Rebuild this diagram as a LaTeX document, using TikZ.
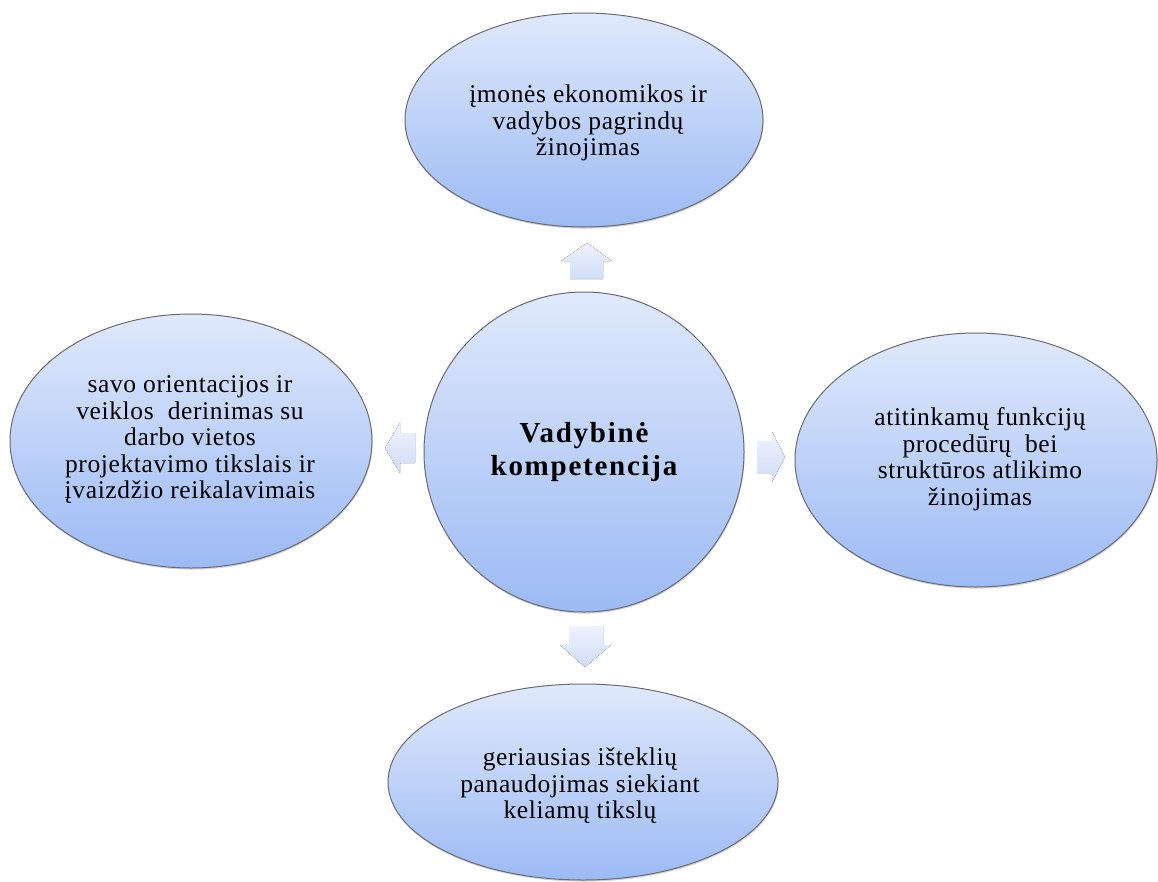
\documentclass[tikz,border=0pt]{standalone}
\usepackage{fontspec}
\setmainfont{Liberation Serif}
\usepackage{xcolor}
\usetikzlibrary{shapes.geometric, positioning, calc, shadows}

\definecolor{bubbleTop}{HTML}{E0E9FC}
\definecolor{bubbleBot}{HTML}{9CBAF4}
\definecolor{arrowTop}{HTML}{EEF3FD}
\definecolor{arrowBot}{HTML}{D0DCF8}
\definecolor{rimGray}{HTML}{6A6A72}

\begin{document}
\begin{tikzpicture}[x=1pt, y=-1pt,
  bubble/.style={ellipse, draw=rimGray, line width=1pt, top color=bubbleTop, bottom color=bubbleBot,
    inner sep=0pt, drop shadow={shadow xshift=0.6pt, shadow yshift=-1.6pt, opacity=0.35}},
  bubbletext/.style={align=center, font=\fontsize{25.5}{26.5}\selectfont\addfontfeatures{LetterSpace=2.5}},
  blockarrow/.style={top color=arrowTop, bottom color=arrowBot}]
  \useasboundingbox (0,0) rectangle (1158,881);

  % centre and the four ellipses
  \node[bubble, circle, minimum size=320pt] (hub) at (584,452) {};
  \node[bubble, minimum width=358pt, minimum height=214pt] (upper) at (584,120) {};
  \node[bubble, minimum width=362pt, minimum height=254pt] (leftE) at (191,441) {};
  \node[bubble, minimum width=362pt, minimum height=254pt] (rightE) at (976,460) {};
  \node[bubble, minimum width=390pt, minimum height=196pt] (lower) at (583,782) {};

  \node[align=center, font=\bfseries\fontsize{29}{33}\selectfont\addfontfeatures{LetterSpace=6}] (hubText) at (hub) {Vadybinė\\kompetencija};
  \node[bubbletext] (upperText) at (588,123) {įmonės ekonomikos ir\\vadybos pagrindų\\žinojimas};
  \node[bubbletext] (leftText) at (190,440) {savo orientacijos ir\\veiklos \ derinimas su\\darbo vietos\\projektavimo tikslais ir\\įvaizdžio reikalavimais};
  \node[bubbletext] (rightText) at (980,459) {atitinkamų funkcijų\\procedūrų \ bei\\struktūros atlikimo\\žinojimas};
  \node[bubbletext] (lowerText) at (580,786) {geriausias išteklių\\panaudojimas siekiant\\keliamų tikslų};

  % block arrows
  \fill[blockarrow] (570,279) -- (570,261) -- (561,261) -- (587,243) -- (612,261) -- (603,261) -- (603,279) -- cycle;
  \fill[blockarrow] (569,626) -- (603,626) -- (603,645) -- (611,645) -- (585,667) -- (560,645) -- (569,645) -- cycle;
  \fill[blockarrow] (415,433) -- (400,433) -- (400,423) -- (385,448) -- (400,473) -- (400,463) -- (415,463) -- cycle;
  \fill[blockarrow] (757,441) -- (772,441) -- (772,432) -- (785,457) -- (772,482) -- (772,473) -- (757,473) -- cycle;
\end{tikzpicture}
\end{document}
